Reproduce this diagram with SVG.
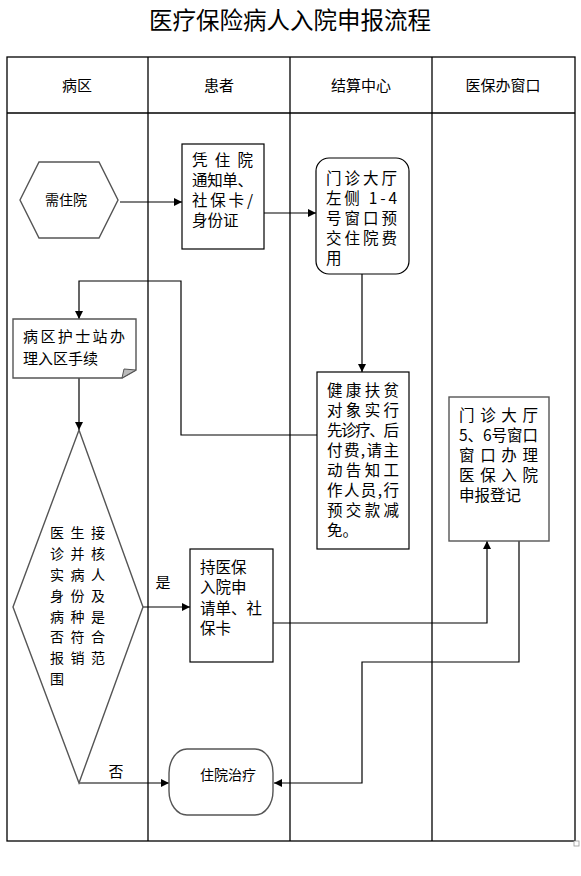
<svg xmlns="http://www.w3.org/2000/svg" width="581" height="876" viewBox="0 0 581 876">
<style>
text{font-family:"Noto Sans CJK SC","Liberation Sans",sans-serif;fill:#000}
.t{font-size:23.5px}
.h{font-size:15px}
.b{font-size:15.5px}
.w{font-size:15px}
.d{font-size:14px}
.ln{stroke:#000;stroke-width:1.3;fill:none}
.c{stroke:#000;stroke-width:1.2;fill:none;marker-end:url(#ar)}
.box{fill:#fff;stroke:#000;stroke-width:1.2}
.gbox{fill:#fff;stroke:#555;stroke-width:1.4}
</style>
<defs>
<marker id="ar" viewBox="0 0 10 10" refX="10" refY="5" markerWidth="8" markerHeight="8" markerUnits="userSpaceOnUse" orient="auto">
<path d="M0,0 L10,5 L0,10 z" fill="#000"/>
</marker>
</defs>
<rect width="581" height="876" fill="#fff"/>
<text class="t" x="290" y="29" text-anchor="middle">医疗保险病人入院申报流程</text>
<g id="table">
<rect class="ln" x="7" y="57" width="568" height="784"/>
<line class="ln" x1="7" y1="113" x2="575" y2="113"/>
<line class="ln" x1="148" y1="57" x2="148" y2="841"/>
<line class="ln" x1="290" y1="57" x2="290" y2="841" stroke-width="1"/>
<line class="ln" x1="432" y1="57" x2="432" y2="841"/>
<text class="h" x="77" y="91" text-anchor="middle">病区</text>
<text class="h" x="219" y="91" text-anchor="middle">患者</text>
<text class="h" x="361" y="91" text-anchor="middle">结算中心</text>
<text class="h" x="503" y="91" text-anchor="middle">医保办窗口</text>
<rect x="574" y="841" width="5" height="5" fill="#fff" stroke="#999" stroke-width="0.8"/>
</g>
<g id="connectors">
<line class="c" x1="120" y1="202" x2="182" y2="202"/>
<line class="c" x1="264" y1="213" x2="316" y2="213"/>
<line class="c" x1="362" y1="274" x2="362" y2="372"/>
<polyline class="c" points="317,435 181,435 181,281 79,281 79,319"/>
<line class="c" x1="79" y1="378" x2="79" y2="430"/>
<line class="c" x1="143" y1="607" x2="190" y2="607"/>
<polyline class="c" points="273,623 487,623 487,541"/>
<polyline class="c" points="519,541 519,662 362,662 362,783 274,783"/>
<line class="c" x1="79" y1="783" x2="169" y2="783"/>
<text class="h" x="163" y="588" text-anchor="middle">是</text>
<text class="h" x="116" y="777" text-anchor="middle">否</text>
</g>
<g id="n-need">
<polygon class="gbox" points="20,200 39,162 99,162 118,200 99,238 39,238"/>
<text class="d" x="66" y="205" text-anchor="middle">需住院</text>
</g>
<g id="n-patient1">
<rect class="box" x="182" y="144" width="82" height="105"/>
<text class="b" x="192" y="166" textLength="61" lengthAdjust="spacing">凭住院</text>
<text class="b" x="192" y="186" textLength="61" lengthAdjust="spacing">通知单、</text>
<text class="b" x="192" y="206" textLength="61" lengthAdjust="spacing">社保卡/</text>
<text class="b" x="192" y="226">身份证</text>
</g>
<g id="n-prepay">
<rect class="box" x="316" y="158" width="93" height="116" rx="13"/>
<text class="b" x="326" y="184" textLength="71" lengthAdjust="spacing">门诊大厅</text>
<text class="b" x="326" y="204" textLength="71" lengthAdjust="spacing">左侧 1-4</text>
<text class="b" x="326" y="224" textLength="71" lengthAdjust="spacing">号窗口预</text>
<text class="b" x="326" y="244" textLength="71" lengthAdjust="spacing">交住院费</text>
<text class="b" x="326" y="264">用</text>
</g>
<g id="n-poverty">
<rect class="box" x="317" y="372" width="92" height="177"/>
<text class="b" x="327" y="396" textLength="72" lengthAdjust="spacing">健康扶贫</text>
<text class="b" x="327" y="416" textLength="72" lengthAdjust="spacing">对象实行</text>
<text class="b" x="327" y="436" textLength="72" lengthAdjust="spacing">先诊疗、后</text>
<text class="b" x="327" y="456" textLength="72" lengthAdjust="spacing">付费,请主</text>
<text class="b" x="327" y="476" textLength="72" lengthAdjust="spacing">动告知工</text>
<text class="b" x="327" y="496" textLength="72" lengthAdjust="spacing">作人员,行</text>
<text class="b" x="327" y="516" textLength="72" lengthAdjust="spacing">预交款减</text>
<text class="b" x="327" y="536">免。</text>
</g>
<g id="n-ward">
<path class="gbox" d="M13,319 H136 V370 L122,378 H13 Z"/>
<path d="M122,378 L124,369 L136,370 Z" fill="#bbb" stroke="#555" stroke-width="1"/>
<text class="w" x="23" y="342" textLength="102" lengthAdjust="spacing">病区护士站办</text>
<text class="w" x="23" y="364">理入区手续</text>
</g>
<g id="n-decide">
<polygon class="gbox" points="79,430 143,607 79,783 13,607" stroke-width="1.1"/>
<text class="d" x="50" y="538" textLength="55" lengthAdjust="spacing">医生接</text>
<text class="d" x="50" y="559" textLength="55" lengthAdjust="spacing">诊并核</text>
<text class="d" x="50" y="580" textLength="55" lengthAdjust="spacing">实病人</text>
<text class="d" x="50" y="601" textLength="55" lengthAdjust="spacing">身份及</text>
<text class="d" x="50" y="622" textLength="55" lengthAdjust="spacing">病种是</text>
<text class="d" x="50" y="642" textLength="55" lengthAdjust="spacing">否符合</text>
<text class="d" x="50" y="663" textLength="55" lengthAdjust="spacing">报销范</text>
<text class="d" x="50" y="684">围</text>
</g>
<g id="n-apply">
<rect class="box" x="190" y="549" width="83" height="113"/>
<text class="b" x="200" y="573">持医保</text>
<text class="b" x="200" y="593">入院申</text>
<text class="b" x="200" y="614" textLength="62" lengthAdjust="spacing">请单、社</text>
<text class="b" x="200" y="634">保卡</text>
</g>
<g id="n-register">
<rect class="gbox" x="449" y="397" width="100" height="144"/>
<text class="b" x="459" y="421" textLength="79" lengthAdjust="spacing">门诊大厅</text>
<text class="b" x="459" y="441" textLength="79" lengthAdjust="spacing">5、6号窗口</text>
<text class="b" x="459" y="461" textLength="79" lengthAdjust="spacing">窗口办理</text>
<text class="b" x="459" y="481" textLength="79" lengthAdjust="spacing">医保入院</text>
<text class="b" x="459" y="501">申报登记</text>
</g>
<g id="n-treat">
<rect class="gbox" x="169" y="749" width="104" height="66" rx="18" ry="24"/>
<text class="d" x="228" y="780" text-anchor="middle">住院治疗</text>
</g>
</svg>
